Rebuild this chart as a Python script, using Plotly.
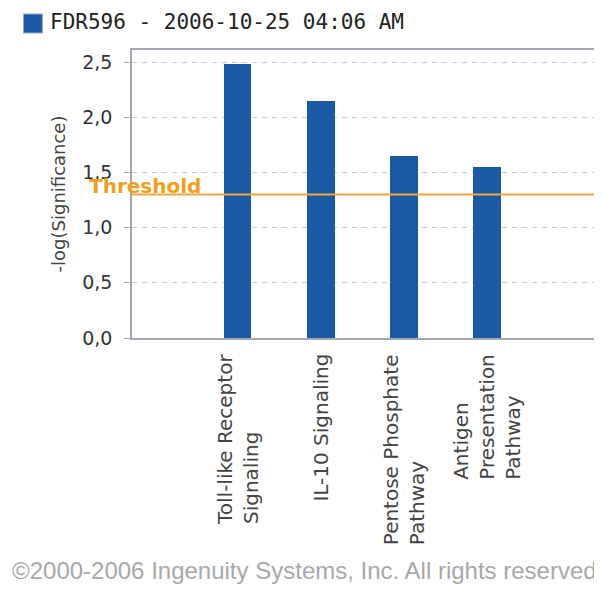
import plotly.graph_objects as go

# ---- data ----
categories = ["Toll-like Receptor Signaling", "IL-10 Signaling",
              "Pentose Phosphate Pathway", "Antigen Presentation Pathway"]
category_labels = ["Toll-like Receptor<br>Signaling", "IL-10 Signaling",
                   "Pentose Phosphate<br>Pathway", "Antigen<br>Presentation<br>Pathway"]
values = [2.48, 2.15, 1.65, 1.55]
threshold = 1.3
series_name = "FDR596 - 2006-10-25 04:06 AM"
y_tickvals = [0, 0.5, 1.0, 1.5, 2.0, 2.5]
y_ticktext = ["0,0", "0,5", "1,0", "1,5", "2,0", "2,5"]
footer = "©2000-2006 Ingenuity Systems, Inc. All rights reserved"

BLUE = "#1b59a5"
ORANGE = "#f2a63a"
BORDER = "#a3a7b0"

# page body has an 8px margin; figure is sized to fit inside the window
W, H = 594, 586
ML, MR, MT, MB = 124, 6, 42, 256
PW, PH = W - ML - MR, H - MT - MB

def px_x(x):  # window px -> paper x
    return (x - 8 - ML) / PW

def px_y(y):  # window px -> paper y
    return (H - MB - (y - 8)) / PH

fig = go.Figure()
fig.add_trace(go.Bar(x=categories, y=values, name=series_name,
                     marker=dict(color=BLUE, line=dict(width=0)),
                     width=0.335, showlegend=False))

# threshold line
fig.add_shape(type="line", xref="x domain", yref="y", x0=0, x1=1,
              y0=threshold, y1=threshold, line=dict(color=ORANGE, width=2))
fig.add_annotation(xref="paper", yref="y", x=px_x(87), y=threshold,
                   xanchor="left", yanchor="bottom", yshift=-5,
                   text="<b>Threshold</b>", showarrow=False,
                   font=dict(family="DejaVu Sans", size=20, color="#f0a020"))

# category labels (rotated, left-aligned lines)
for cat, lab in zip(categories, category_labels):
    fig.add_annotation(x=cat, y=0, xref="x", yref="y", yanchor="top",
                       xanchor="center", yshift=-14, textangle=-90,
                       align="left", text=lab, showarrow=False,
                       font=dict(family="DejaVu Sans", size=20, color="#444444"))

# legend (drawn manually)
fig.add_shape(type="rect", xref="paper", yref="paper",
              x0=px_x(23), x1=px_x(42), y0=px_y(33), y1=px_y(14),
              fillcolor=BLUE, line=dict(color="#8fa8cc", width=1))
fig.add_annotation(xref="paper", yref="paper", x=px_x(48), y=px_y(22),
                   xanchor="left", yanchor="middle", text=series_name,
                   showarrow=False,
                   font=dict(family="DejaVu Sans Mono", size=21, color="#222222"))

# footer
fig.add_annotation(xref="paper", yref="paper", x=px_x(9), y=px_y(570),
                   xanchor="left", yanchor="middle", text=footer, showarrow=False,
                   font=dict(family="Liberation Sans", size=24, color="#a8a8a8"))

fig.update_layout(
    width=W, height=H,
    margin=dict(l=ML, r=MR, t=MT, b=MB),
    paper_bgcolor="white", plot_bgcolor="white",
    bargap=0,
    xaxis=dict(range=[-1.27, 4.29], showticklabels=False, ticks="",
               showgrid=False, showline=True, mirror=True,
               linecolor=BORDER, linewidth=1.5, zeroline=False),
    yaxis=dict(range=[0, 2.61], tickvals=y_tickvals, ticktext=y_ticktext,
               ticks="outside", ticklen=6, tickcolor=BORDER, tickwidth=1,
               ticklabelstandoff=8,
               showgrid=True, gridcolor="#c9ccd6", griddash="5px,5px", gridwidth=1,
               showline=True, mirror=True, linecolor=BORDER, linewidth=1.5,
               zeroline=False,
               tickfont=dict(family="DejaVu Sans", size=19, color="#333333"),
               title=dict(text="-log(Significance)", standoff=12,
                          font=dict(family="DejaVu Sans", size=18, color="#444444"))),
)

fig.write_html("out.html")
